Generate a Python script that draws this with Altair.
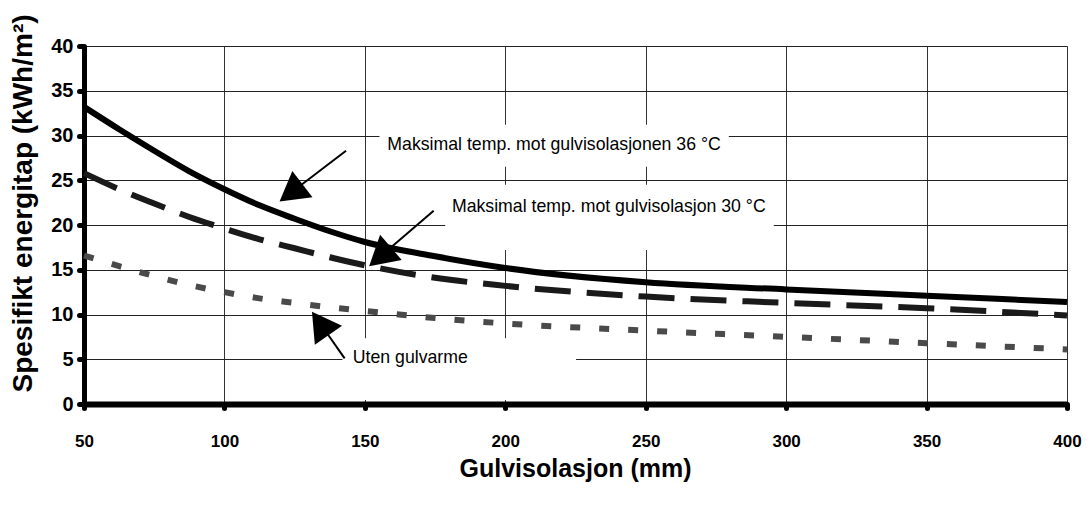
import math
import altair as alt
import pandas as pd

# ---- data ----
x_mm = [50, 62.5, 75, 87.5, 100, 112.5, 125, 137.5, 150, 175, 200, 250, 300, 350, 400]
temp36 = [33.2, 30.7, 28.3, 26.0, 24.0, 22.2, 20.7, 19.3, 18.1, 16.5, 15.2, 13.6, 12.8, 12.1, 11.4]
temp30 = [25.8, 24.0, 22.4, 20.9, 19.6, 18.4, 17.4, 16.4, 15.5, 14.1, 13.2, 12.0, 11.3, 10.7, 9.9]
no_heat = [16.6, 15.4, 14.3, 13.3, 12.5, 11.8, 11.3, 10.8, 10.4, 9.6, 9.0, 8.2, 7.5, 6.8, 6.1]

x_ticks = [50, 100, 150, 200, 250, 300, 350, 400]
y_ticks = [0, 5, 10, 15, 20, 25, 30, 35, 40]

labels = ["Maksimal temp. mot gulvisolasjonen 36 °C",
          "Maksimal temp. mot gulvisolasjon 30 °C",
          "Uten gulvarme"]
label_x = [158.0, 181.0, 145.7]
label_y = [28.4, 21.4, 4.55]

# white boxes behind the labels (data units)
box_x = [155.2, 178.6, 142.0]
box_x2 = [279.6, 295.6, 225.2]
box_y = [26.5, 17.2, 0.45]
box_y2 = [31.2, 24.5, 7.35]

# arrows: tail -> head centre (data units)
tail_x = [143.3, 174.5, 142.8]
tail_y = [28.3, 21.6, 5.1]
head_x = [123.7, 155.4, 134.1]
head_y = [23.6, 16.45, 9.0]

W, H = 983, 358
XMIN, XMAX, YMIN, YMAX = 50, 400, 0, 40

df = pd.DataFrame({"x": x_mm, "a": temp36, "b": temp30, "c": no_heat})
lab_df = pd.DataFrame({"t": labels, "x": label_x, "y": label_y})
box_df = pd.DataFrame({"x": box_x, "x2": box_x2, "y": box_y, "y2": box_y2})
angles = []
for tx, ty, hx, hy in zip(tail_x, tail_y, head_x, head_y):
    dx = (hx - tx) * W / (XMAX - XMIN)
    dy = -(hy - ty) * H / (YMAX - YMIN)
    angles.append(math.degrees(math.atan2(dx, -dy)) % 360)
arr_df = pd.DataFrame({"tx": tail_x, "ty": tail_y, "hx": head_x, "hy": head_y, "ang": angles})

SANS = "Liberation Sans, Arial"

xs = alt.Scale(domain=[XMIN, XMAX], nice=False, zero=False)
ys = alt.Scale(domain=[YMIN, YMAX], nice=False)

x_axis = alt.Axis(values=x_ticks, title="Gulvisolasjon (mm)", grid=True,
                  gridColor="#333", gridWidth=1, domainColor="black", domainWidth=6,
                  tickColor="black", tickWidth=5, tickSize=4, tickCap="round",
                  labelFont=SANS, labelFontSize=17, labelFontWeight="bold",
                  labelColor="black", labelPadding=25, labelFlush=False, labelOverlap=False,
                  titleFont=SANS, titleFontSize=25, titleFontWeight="bold", titleColor="black",
                  titleX=491, titleY=64, titleBaseline="middle", titleAlign="center")
y_axis = alt.Axis(values=y_ticks, title="Spesifikt energitap (kWh/m²)", grid=True,
                  gridColor="#222", gridWidth=1, domainColor="black", domainWidth=5,
                  tickColor="black", tickWidth=5, tickSize=5, tickCap="round",
                  labelFont=SANS, labelFontSize=20, labelFontWeight="bold",
                  labelColor="black", labelPadding=6, labelFlush=False, labelOverlap=False,
                  titleFont=SANS, titleFontSize=28, titleFontWeight="bold", titleColor="black",
                  titleX=-61, titleY=157, titleBaseline="middle", titleAlign="center", titleAngle=270)

base = alt.Chart(df)
line36 = base.mark_line(color="black", strokeWidth=6, interpolate="monotone").encode(
    x=alt.X("x:Q", scale=xs, axis=x_axis), y=alt.Y("a:Q", scale=ys, axis=y_axis))
line30 = base.mark_line(color="#1a1a1a", strokeWidth=6, strokeDash=[36, 16],
                        interpolate="monotone").encode(x="x:Q", y="b:Q")
line0 = base.mark_line(color="#4a4a4a", strokeWidth=6, strokeDash=[10, 19],
                       interpolate="monotone").encode(x="x:Q", y="c:Q")

boxes = alt.Chart(box_df).mark_rect(color="white").encode(
    x="x:Q", x2="x2", y="y:Q", y2="y2")
rules = alt.Chart(arr_df).mark_rule(color="black", strokeWidth=2).encode(
    x="tx:Q", y="ty:Q", x2="hx", y2="hy")
heads = alt.Chart(arr_df).mark_point(shape="triangle-up", filled=True, color="black",
                                     opacity=1, size=1100).encode(
    x="hx:Q", y="hy:Q", angle=alt.Angle("ang:Q", scale=None))
texts = alt.Chart(lab_df).mark_text(align="left", baseline="alphabetic", font=SANS,
                                    fontSize=17.7, color="black").encode(
    x="x:Q", y="y:Q", text="t:N")

chart = alt.layer(line36, boxes, line30, line0, rules, heads, texts).properties(
    width=W, height=H,
    autosize=alt.AutoSizeParams(type="none"),
    padding={"left": 76, "top": 38, "right": 15, "bottom": 96},
).configure_view(stroke="black", strokeWidth=3).configure(background="white")

chart.save("out.html", embed_options={"renderer": "svg", "actions": False})
